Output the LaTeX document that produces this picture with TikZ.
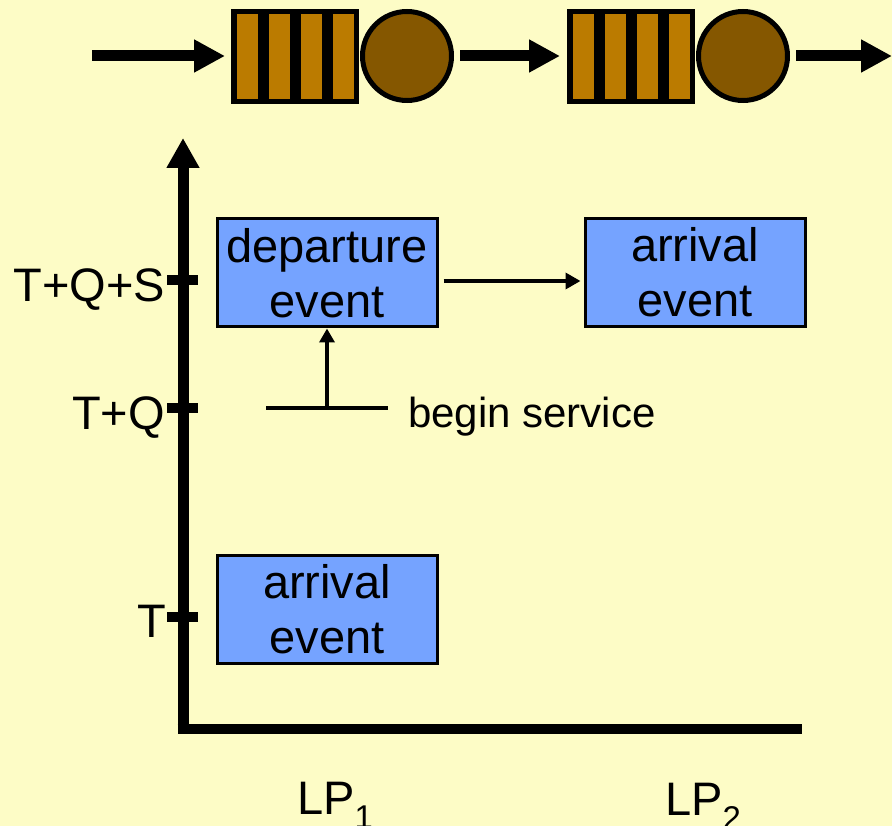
\documentclass[tikz,border=0pt]{standalone}
\usepackage{fontspec}
\setmainfont{Liberation Sans}
\usetikzlibrary{arrows.meta}
\definecolor{bg}{HTML}{FDFCC6}
\definecolor{boxblue}{HTML}{75A3FF}
\definecolor{qorange}{HTML}{BB7B00}
\definecolor{sbrown}{HTML}{855700}
\newcommand\figbig{\fontsize{47pt}{55pt}\selectfont}
\newcommand\figmid{\fontsize{42pt}{48pt}\selectfont}
\begin{document}
\begin{tikzpicture}[x=1pt,y=-1pt,
  queue/.style={rectangle, fill=black, minimum width=128pt, minimum height=95pt, inner sep=0pt, outer sep=0pt},
  server/.style={circle, draw=black, line width=5pt, fill=sbrown, minimum size=89pt, inner sep=0pt},
  bigarrow/.style={line width=11pt, -{Triangle[length=31pt,width=31pt]}},
  thinarrow/.style={line width=3.5pt, -{Triangle[length=15pt,width=16pt]}},
  tick/.style={line width=10pt},
  evbox/.style={rectangle, draw=black, line width=3pt, fill=boxblue, minimum width=220pt, minimum height=108pt, inner sep=0pt, align=center, font=\figbig},
  lbl/.style={font=\figbig, inner sep=0pt}]
\fill[bg] (0,0) rectangle (892,826);
\useasboundingbox (0,0) rectangle (892,826);

% queues and servers
\node[queue] (q1) at (295,56.5) {};
\node[server] (s1) at (407,56) {};
\node[queue] (q2) at (631,56.5) {};
\node[server] (s2) at (743,56) {};
\foreach \q in {q1,q2}{
  \foreach \i in {0,...,3}{
    \fill[qorange] ([xshift={6+32*\i}, yshift=-5pt]\q.north west) rectangle ++(21,85);
  }
}
\coordinate (in) at (92,56);
\coordinate (out) at (892,56);
\draw[bigarrow, shorten >=6pt] (in) -- (q1.west |- in);
\draw[bigarrow, shorten <=6pt, shorten >=7pt] (s1.east) -- (q2.west |- s1.east);
\draw[bigarrow, shorten <=6pt] (s2.east) -- (out);

% axes
\coordinate (O) at (183,729);
\coordinate (ytop) at (183,138);
\coordinate (xend) at (802,729);
\draw[line width=11pt, -{Triangle[length=30pt,width=31pt]}] (O) -- (ytop);
\draw[line width=10pt] ([xshift=-5.5pt]O) -- (xend);

% ticks
\coordinate (tS) at (183,280);
\coordinate (tQ) at (183,408);
\coordinate (tT) at (183,617);
\foreach \t in {tS,tQ,tT}{
  \draw[tick] ([xshift=-16pt]\t) -- ([xshift=15pt]\t);
}
\node[lbl, anchor=base east] (lS) at (165,302) {T+Q+S};
\node[lbl, anchor=base east] (lQ) at (165,429) {T+Q};
\node[lbl, anchor=base east] (lT) at (166,637) {T};

% event boxes
\node[evbox] (dep) at (327,273) {departure\\event};
\node[evbox] (arr2) at (695,272.5) {arrival\\event};
\node[evbox] (arr1) at (327,609) {arrival\\event};

\draw[thinarrow, shorten <=5pt, shorten >=3pt] ([yshift=-8pt]dep.east) -- ([yshift=-8pt]dep.east -| arr2.west);

% begin service
\coordinate (bsL) at (266,408);
\coordinate (bsR) at (388,408);
\draw[line width=4pt] (bsL) -- (bsR);
\draw[line width=4pt, -{Triangle[length=14pt,width=15pt]}] (dep.south |- bsL) -- (dep.south);
\node[font=\figmid, anchor=base west, inner sep=0pt] (bs) at (408,427) {begin service};

% LP labels
\node[lbl, anchor=base west] (lp1) at (297,814) {LP\textsubscript{1}};
\node[lbl, anchor=base west] (lp2) at (665,815) {LP\textsubscript{2}};
\end{tikzpicture}
\end{document}
